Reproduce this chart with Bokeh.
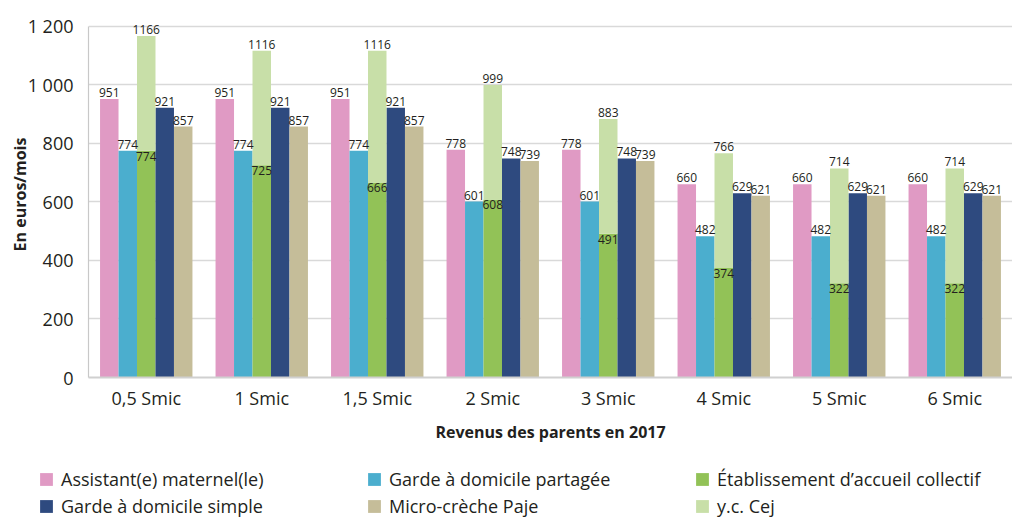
from bokeh.plotting import figure
from bokeh.layouts import column
from bokeh.models import ColumnDataSource, FactorRange, Range1d, Legend, LegendItem, FixedTicker
from bokeh.transform import dodge
from bokeh.core.properties import value
from bokeh.embed import file_html
from bokeh.resources import INLINE

categories = ["0,5 Smic", "1 Smic", "1,5 Smic", "2 Smic", "3 Smic", "4 Smic", "5 Smic", "6 Smic"]
assistant = [951, 951, 951, 778, 778, 660, 660, 660]
garde_partagee = [774, 774, 774, 601, 601, 482, 482, 482]
etablissement = [774, 725, 666, 608, 491, 374, 322, 322]
yc_cej = [1166, 1116, 1116, 999, 883, 766, 714, 714]
garde_simple = [921, 921, 921, 748, 748, 629, 629, 629]
micro_creche = [857, 857, 857, 739, 739, 621, 621, 621]
y_ticks = [0, 200, 400, 600, 800, 1000, 1200]
y_tick_labels = ["0", "200", "400", "600", "800", "1 000", "1 200"]

series_names = ["Assistant(e) maternel(le)", "Garde à domicile partagée", "Établissement d’accueil collectif",
                "Garde à domicile simple", "Micro-crèche Paje", "y.c. Cej"]
colors = {"assistant": "#E09AC4", "partagee": "#4BAECE", "etab": "#92C257",
          "simple": "#2E4A7F", "micro": "#C5BD99", "cej": "#C8DFA8"}

src = ColumnDataSource(dict(
    cat=categories,
    assistant=assistant, partagee=garde_partagee, etab=etablissement,
    cej=yc_cej, simple=garde_simple, micro=micro_creche,
    assistant_lbl=[str(v) for v in assistant],
    partagee_lbl=[str(v) for v in garde_partagee],
    etab_lbl=[str(v) for v in etablissement],
    cej_lbl=[str(v) for v in yc_cej],
    simple_lbl=[str(v) for v in garde_simple],
    micro_lbl=[str(v) for v in micro_creche],
))

FONT = "Open Sans"
TXT = "#231F20"
H = 448
WID = 1012

p = figure(width=WID, height=H, x_range=FactorRange(*categories, range_padding=0),
           y_range=Range1d(0, 1250), output_backend="svg", toolbar_location=None,
           min_border_left=88, min_border_right=0, min_border_top=11, min_border_bottom=H - 377)
p.frame_align = False
p.outline_line_color = None
p.xgrid.grid_line_color = None
p.ygrid.ticker = FixedTicker(ticks=y_ticks)
p.ygrid.grid_line_color = "#D9D9D9"
p.ygrid.grid_line_width = 1.5

W = 0.16
offsets = {"assistant": -0.32, "partagee": -0.16, "etab": 0.0, "simple": 0.16, "micro": 0.32}

for key in ["assistant", "partagee", "etab", "simple", "micro"]:
    p.vbar(x=dodge("cat", offsets[key], range=p.x_range), top=key, width=W, source=src,
           fill_color=colors[key], line_color=None)
p.vbar(x=dodge("cat", 0.0, range=p.x_range), bottom="etab", top="cej", width=W, source=src,
       fill_color=colors["cej"], line_color=None)

# labels
for key in ["assistant", "partagee", "simple", "micro"]:
    p.text(x=dodge("cat", offsets[key], range=p.x_range), y=key, text=key + "_lbl", source=src,
           text_align="center", text_baseline="bottom", y_offset=-2,
           text_font=value(FONT), text_font_size="12px", text_color=TXT)
p.text(x=dodge("cat", 0.0, range=p.x_range), y="cej", text="cej_lbl", source=src,
       text_align="center", text_baseline="bottom", y_offset=-2,
       text_font=value(FONT), text_font_size="12px", text_color=TXT)
p.text(x=dodge("cat", 0.0, range=p.x_range), y="etab", text="etab_lbl", source=src,
       text_align="center", text_baseline="top", y_offset=1,
       text_font=value(FONT), text_font_size="12px", text_color=TXT)

# axes
p.yaxis.ticker = FixedTicker(ticks=y_ticks)
p.yaxis.bounds = (0, 1200)
p.yaxis.major_label_overrides = {t: l for t, l in zip(y_ticks, y_tick_labels)}
p.yaxis.axis_label = "En euros/mois"
p.yaxis.axis_label_text_font = FONT
p.yaxis.axis_label_text_font_style = "bold"
p.yaxis.axis_label_text_font_size = "16px"
p.yaxis.axis_label_text_color = TXT
p.yaxis.axis_label_standoff = -6
p.yaxis.major_label_text_font = FONT
p.yaxis.major_label_text_font_size = "18px"
p.yaxis.major_label_text_color = TXT
p.yaxis.major_label_standoff = 9
p.yaxis.major_tick_line_color = None
p.yaxis.minor_tick_line_color = None
p.yaxis.axis_line_color = "#C8C8C8"
p.yaxis.axis_line_width = 1.2

p.xaxis.axis_label = "Revenus des parents en 2017"
p.xaxis.axis_label_text_font = FONT
p.xaxis.axis_label_text_font_style = "bold"
p.xaxis.axis_label_text_font_size = "16px"
p.xaxis.axis_label_text_color = TXT
p.xaxis.axis_label_standoff = 8
p.xaxis.major_label_text_font = FONT
p.xaxis.major_label_text_font_size = "18px"
p.xaxis.major_label_text_color = TXT
p.xaxis.major_label_standoff = 2
p.xaxis.major_tick_line_color = None
p.xaxis.axis_line_color = "#D0D0D0"
p.xaxis.axis_line_width = 2

# legend in its own strip below the chart
lg = figure(width=WID, height=517 - H, x_range=Range1d(0, 1), y_range=Range1d(0, 1),
            x_axis_type=None, y_axis_type=None, output_backend="svg", toolbar_location=None,
            min_border_left=0, min_border_right=0, min_border_top=0, min_border_bottom=0)
lg.frame_align = False
lg.outline_line_color = None
lg.xgrid.visible = False
lg.ygrid.visible = False

order = ["assistant", "partagee", "etab", "simple", "micro", "cej"]
items = []
for n, k in zip(series_names, order):
    # swatch-only renderer, kept outside the visible range
    r = lg.vbar(x=[5], top=[1], width=0.1, fill_color=colors[k], line_color=None)
    items.append(LegendItem(label=n, renderers=[r]))
legend = Legend(items=items, ncols=3, orientation="horizontal", location=(38, -1),
                label_width=302, glyph_width=16, glyph_height=16, label_standoff=7, spacing=3,
                padding=0, margin=0, border_line_color=None, background_fill_alpha=0,
                label_text_font=FONT, label_text_font_size="18px", label_text_color=TXT)
lg.add_layout(legend)

layout = column(p, lg, spacing=0)
open("out.html", "w").write(file_html(layout, INLINE))
